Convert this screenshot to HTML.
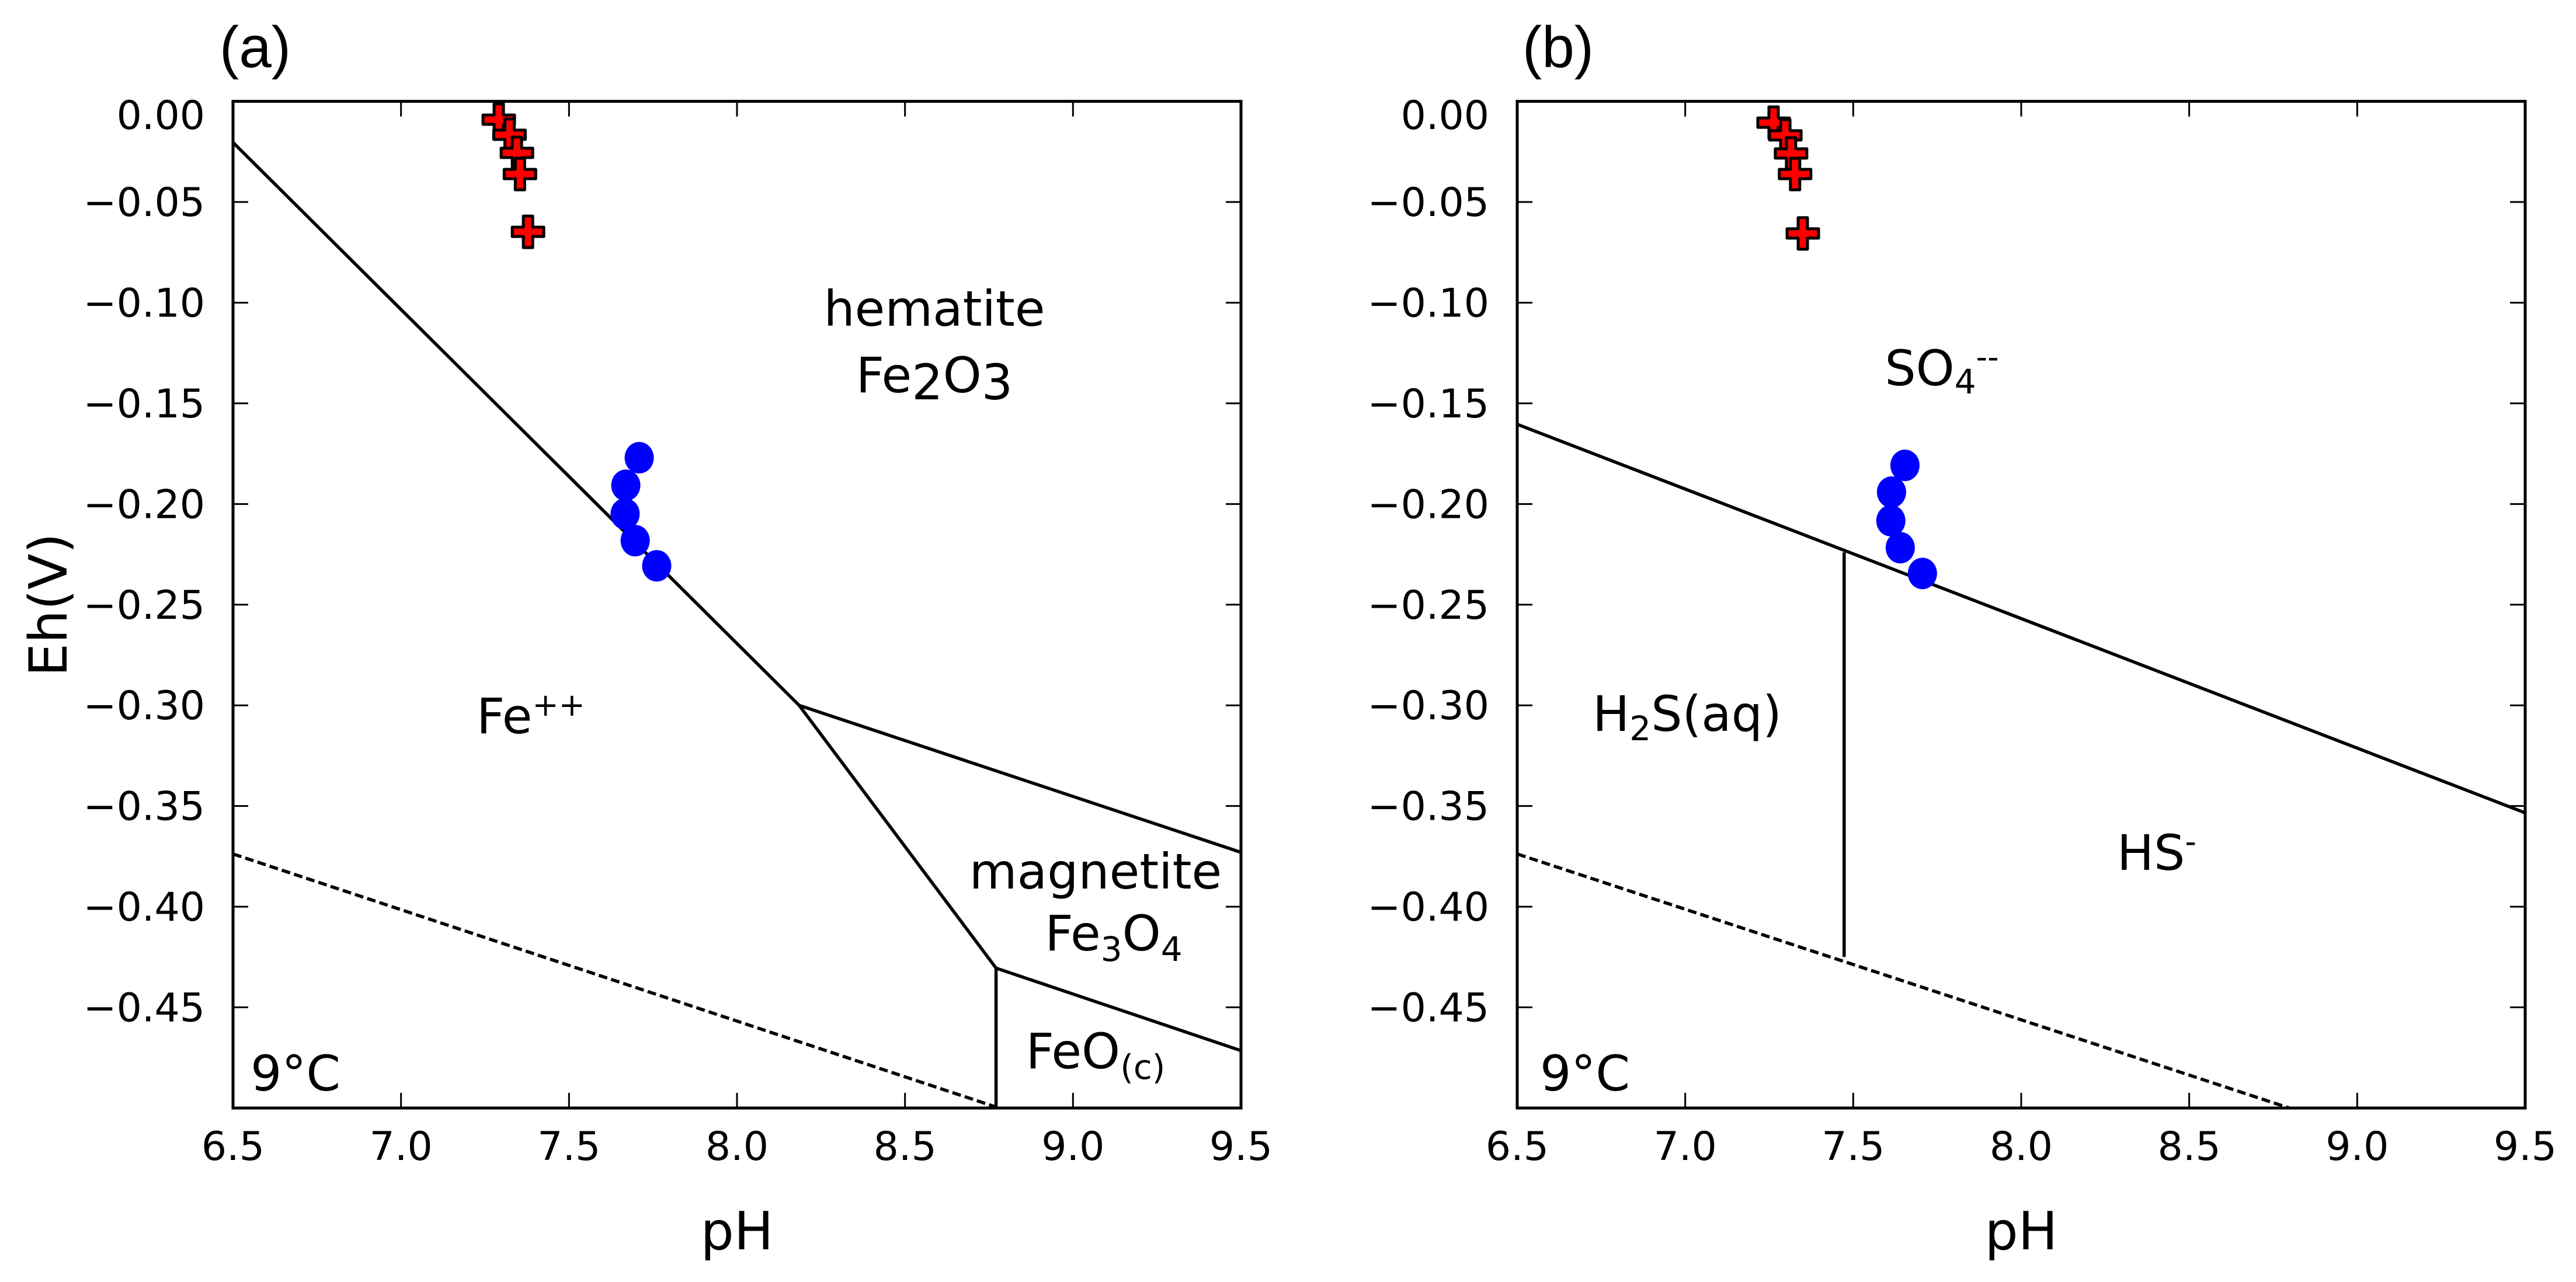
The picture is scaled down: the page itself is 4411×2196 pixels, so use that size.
<!DOCTYPE html>
<html><head><meta charset="utf-8">
<style>
html,body{margin:0;padding:0;background:#fff;}
svg{display:block;font-family:"DejaVu Sans","Liberation Sans",sans-serif;}
</style></head>
<body>
<svg id="fig" width="4411" height="2196" viewBox="0 0 4411 2196" xmlns="http://www.w3.org/2000/svg"></svg>
<script>
// ---- data ----
const xTicks = [6.5, 7.0, 7.5, 8.0, 8.5, 9.0, 9.5];
const xTickLabels = ["6.5","7.0","7.5","8.0","8.5","9.0","9.5"];
const yTicks = [0.00,-0.05,-0.10,-0.15,-0.20,-0.25,-0.30,-0.35,-0.40,-0.45];
const yTickLabels = ["0.00","\u22120.05","\u22120.10","\u22120.15","\u22120.20","\u22120.25","\u22120.30","\u22120.35","\u22120.40","\u22120.45"];

// panel a boundaries [pH, Eh]
const aFeHematite = [[6.5,-0.0204],[8.185,-0.300]];
const aFeMagnetite = [[8.185,-0.300],[8.771,-0.4305]];
const aHemMagnetite = [[8.185,-0.300],[9.5,-0.373]];
const aMagFeO = [[8.771,-0.4305],[9.5,-0.4715]];
const aFeFeO = [[8.771,-0.4305],[8.771,-0.5]];
const aWater = [[6.5,-0.3738],[8.78,-0.5]];
// panel b boundaries
const bSulfate = [[6.5,-0.1604],[9.5,-0.3534]];
const bH2SHS = [[7.473,-0.224],[7.473,-0.425]];
const bWater = [[6.5,-0.3738],[8.798,-0.5]];

// samples
const aCrossPH = [7.291,7.323,7.345,7.354,7.378];
const aCrossEh = [-0.0091,-0.0166,-0.0256,-0.0361,-0.0648];
const aDotPH = [7.709,7.669,7.667,7.697,7.761];
const aDotEh = [-0.1770,-0.1907,-0.2049,-0.2182,-0.2307];
const bCrossPH = [7.263,7.298,7.315,7.327,7.350];
const bCrossEh = [-0.0106,-0.0169,-0.0259,-0.0361,-0.0656];
const bDotPH = [7.654,7.614,7.612,7.640,7.706];
const bDotEh = [-0.1808,-0.1941,-0.2083,-0.2217,-0.2345];

const NS = "http://www.w3.org/2000/svg";
const svg = document.getElementById("fig");
function mk(tag, attrs, parent){
  const e = document.createElementNS(NS, tag);
  for (const k in attrs) e.setAttribute(k, attrs[k]);
  (parent||svg).appendChild(e);
  return e;
}

function panel(left, id){
  const P = {left:left, right:left+1726, top:173.6, bottom:1898};
  P.x = v => P.left + (v-6.5)/3*(P.right-P.left);
  P.y = v => P.top + (0 - v)/0.5*(P.bottom-P.top);
  const g = mk("g", {});
  
  
  P.g = g;
  return P;
}

function drawAxes(P, id){
  const g = P.g;
  xTicks.forEach((t,i)=>{
    const x = P.x(t);
    if (i>0 && i<xTicks.length-1){
      const tb = mk("line",{x1:x,x2:x,y1:P.bottom,y2:P.bottom-26,stroke:"#000","stroke-width":3},g);
      
      
      const tt = mk("line",{x1:x,x2:x,y1:P.top,y2:P.top+26,stroke:"#000","stroke-width":3},g);
      
      
    }
    const lb = mk("text",{x:x,y:1987,"font-size":68,"text-anchor":"middle"},g);
    lb.textContent = xTickLabels[i];
    
    
  });
  yTicks.forEach((t,i)=>{
    const y = P.y(t);
    if (i>0){
      const tl = mk("line",{x1:P.left,x2:P.left+26,y1:y,y2:y,stroke:"#000","stroke-width":3},g);
      
      
      const tr = mk("line",{x1:P.right,x2:P.right-26,y1:y,y2:y,stroke:"#000","stroke-width":3},g);
      
      
    }
    const ly = (i===0) ? 197+24 : y+24;
    const lb = mk("text",{x:P.left-48,y:ly,"font-size":68,"text-anchor":"end"},g);
    lb.textContent = yTickLabels[i];
    
    
  });
  const fr = mk("rect",{x:P.left,y:P.top,width:P.right-P.left,height:P.bottom-P.top,fill:"none",stroke:"#000","stroke-width":5},g);
  
  
  const xl = mk("text",{x:(P.left+P.right)/2,y:2140,"font-size":90,"text-anchor":"middle"},g);
  xl.textContent = "pH";
  
  
}

function seg(P, pts, name, dashed){
  const d = pts.map((p,i)=>(i?"L":"M")+P.x(p[0]).toFixed(1)+","+P.y(p[1]).toFixed(1)).join(" ");
  const a = {d:d,fill:"none",stroke:"#000","stroke-width":5.5};
  if (dashed) a["stroke-dasharray"]="15,7";
  const p = mk("path",a,P.g);
  
  
}

function crosses(P, xs, ys, id){
  const h = 27, w = 8;
  xs.forEach((v,i)=>{
    const cx = P.x(v), cy = P.y(ys[i]);
    const d = `M${cx-w},${cy-h} H${cx+w} V${cy-w} H${cx+h} V${cy+w} H${cx+w} V${cy+h} H${cx-w} V${cy+w} H${cx-h} V${cy-w} H${cx-w} Z`;
    const p = mk("path",{d:d,fill:"#ff0000",stroke:"#000","stroke-width":5,"stroke-linejoin":"round"},P.g);
    
    
  });
}
function dots(P, xs, ys, id){
  xs.forEach((v,i)=>{
    const c = mk("ellipse",{cx:P.x(v),cy:P.y(ys[i]),rx:25,ry:27,fill:"#0000ff"},P.g);
    
    
  });
}
function label(P, x, y, html, size, name){
  const t = mk("text",{x:x,y:y,"font-size":size,"text-anchor":"middle"},P.g);
  t.innerHTML = html;
  
  
}

// Panel a
const A = panel(399, "panel-a");
seg(A, aFeHematite, "fe-hematite-boundary");
seg(A, aFeMagnetite, "fe-magnetite-boundary");
seg(A, aHemMagnetite, "hematite-magnetite-boundary");
seg(A, aMagFeO, "magnetite-feo-boundary");
seg(A, aFeFeO, "fe-feo-boundary");
seg(A, aWater, "water-stability-line-a", true);
drawAxes(A, "panel-a");
label(A, 1600, 558, "hematite", 84, "hematite-label");
label(A, 1600, 672, 'Fe<tspan dy="12">2</tspan><tspan dy="-12">O</tspan><tspan dy="12">3</tspan>', 84, "fe2o3-label");
label(A, 909, 1256, 'Fe<tspan dy="-30" font-size="54">++</tspan>', 84, "fe-plus-plus-label");
label(A, 1876, 1522, "magnetite", 84, "magnetite-label");
label(A, 1907, 1628, 'Fe<tspan dy="18" font-size="58">3</tspan><tspan dy="-18">O</tspan><tspan dy="18" font-size="58">4</tspan>', 84, "fe3o4-label");
label(A, 1876, 1830, 'FeO<tspan dy="18" font-size="58">(c)</tspan>', 84, "feo-label");
label(A, 506, 1868, "9°C", 84, "temperature-label-a");
crosses(A, aCrossPH, aCrossEh, "panel-a");
dots(A, aDotPH, aDotEh, "panel-a");

// Panel b
const B = panel(2598, "panel-b");
seg(B, bSulfate, "sulfate-sulfide-boundary");
seg(B, bH2SHS, "h2s-hs-boundary");
seg(B, bWater, "water-stability-line-b", true);
drawAxes(B, "panel-b");
label(B, 3325, 660, 'SO<tspan dy="14" font-size="58">4</tspan><tspan dy="-44" font-size="54">--</tspan>', 84, "sulfate-label");
label(B, 2889, 1252, 'H<tspan dy="16" font-size="58">2</tspan><tspan dy="-16">S(aq)</tspan>', 84, "h2s-label");
label(B, 3693, 1490, 'HS<tspan dy="-30" font-size="54">-</tspan>', 84, "hs-label");
label(B, 2714, 1868, "9°C", 84, "temperature-label-b");
crosses(B, bCrossPH, bCrossEh, "panel-b");
dots(B, bDotPH, bDotEh, "panel-b");

// Panel titles and y title
const ta = mk("text",{x:437,y:115,"font-size":100,"text-anchor":"middle","font-family":"Liberation Sans, sans-serif"});
ta.textContent = "(a)";


const tb = mk("text",{x:2668,y:115,"font-size":100,"text-anchor":"middle","font-family":"Liberation Sans, sans-serif"});
tb.textContent = "(b)";


const yl = mk("text",{x:0,y:0,"font-size":90,"text-anchor":"middle",transform:"translate(114,1036) rotate(-90)"});
yl.textContent = "Eh(V)";


</script>
</body></html>
